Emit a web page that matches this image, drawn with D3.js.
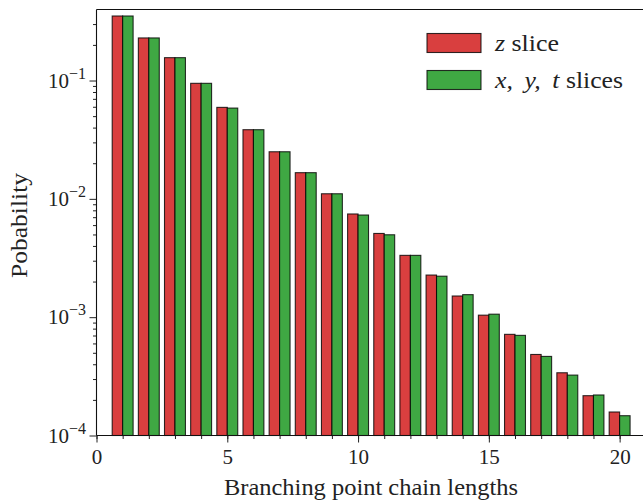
<!DOCTYPE html>
<html><head><meta charset="utf-8">
<script src="https://cdn.jsdelivr.net/npm/d3@7"></script>
<style>
html,body{margin:0;padding:0;background:#fff;overflow:hidden}
svg{display:block}
text{font-family:"Liberation Serif","DejaVu Serif",serif;fill:#222}
</style></head>
<body>
<svg id="c" width="643" height="500"></svg>
<script>
const categories = [1,2,3,4,5,6,7,8,9,10,11,12,13,14,15,16,17,18,19,20];
const zSlice = [0.351,0.229,0.156,0.0947,0.0593,0.0384,0.0250,0.01664,0.01104,0.00745,0.00510,0.00333,0.00227,0.00151,0.00104,0.000716,0.000484,0.000339,0.000217,0.000158];
const xytSlices = [0.351,0.229,0.156,0.0947,0.0585,0.0384,0.0250,0.01664,0.01104,0.00730,0.00497,0.00333,0.00222,0.00155,0.00106,0.000702,0.000466,0.000324,0.000220,0.000147];
const xTicks = [0,5,10,15,20];
const yTickExps = [-1,-2,-3,-4];
const seriesNames = [["z"," slice"],["x,\u2009 y,\u2009 t"," slices"]];
const colors = ["#d93f3f","#3fa843"];

const svg = d3.select("#c");
const L = 96.5, R = 645, T = 9.5, B = 435.5;
const x = d3.scaleLinear().domain([0,20.97]).range([L,R]);
const y = d3.scaleLog().domain([1e-4, Math.pow(10,-0.3998)]).range([B,T]);
const bw = 0.4;

const g = svg.append("g");
const series = [zSlice, xytSlices];
series.forEach((vals,si)=>{
  g.selectAll(".b"+si).data(categories).enter().append("rect")
    .attr("x", d => si===0 ? x(d-bw) : x(d))
    .attr("width", x(bw)-x(0))
    .attr("y", (d,i)=>y(vals[i]))
    .attr("height",(d,i)=>B-y(vals[i]))
    .attr("fill", colors[si])
    .attr("stroke","#000").attr("stroke-opacity",0.8).attr("stroke-width",1.1);
});

// x axis
const xAx = svg.append("g").attr("transform",`translate(0,${B})`);
xAx.call(d3.axisBottom(x).tickValues(d3.range(0,21)).tickSize(3.5).tickFormat(""));
const xMaj = svg.append("g").attr("transform",`translate(0,${B})`);
xMaj.call(d3.axisBottom(x).tickValues(xTicks).tickSize(7).tickPadding(5).tickFormat(d3.format("d")));
[xAx,xMaj].forEach(a=>{a.select(".domain").remove(); a.selectAll("line").attr("stroke","#222").attr("stroke-width",1);});
xMaj.selectAll("text").attr("font-size",21).attr("font-family","Liberation Serif").attr("fill","#222").attr("dy","0.8em");

// y axis
const minor = [];
for (let e=-4;e<0;e++) for (let m=2;m<10;m++){ const v=m*Math.pow(10,e); if (v<=y.domain()[1]) minor.push(v); }
const yMin = svg.append("g").attr("transform",`translate(${L},0)`);
yMin.call(d3.axisLeft(y).tickValues(minor).tickSize(3.5).tickFormat(""));
const yMaj = svg.append("g").attr("transform",`translate(${L},0)`);
yMaj.call(d3.axisLeft(y).tickValues(yTickExps.map(e=>Math.pow(10,e))).tickSize(7).tickFormat(""));
[yMin,yMaj].forEach(a=>{a.select(".domain").remove(); a.selectAll("line").attr("stroke","#222").attr("stroke-width",1);});
yTickExps.forEach(e=>{
  const t = svg.append("text").attr("x",86).attr("y",y(Math.pow(10,e))+7).attr("text-anchor","end").attr("font-size",21);
  t.append("tspan").text("10");
  t.append("tspan").attr("font-size",16).attr("dy",-9).text("\u2212"+(-e));
});

// spines
svg.append("line").attr("x1",L).attr("x2",L).attr("y1",T).attr("y2",B).attr("stroke","#111").attr("stroke-width",1.1);
svg.append("line").attr("x1",L).attr("x2",R).attr("y1",B).attr("y2",B).attr("stroke","#111").attr("stroke-width",1.1);
svg.append("line").attr("x1",L).attr("x2",R).attr("y1",T).attr("y2",T).attr("stroke","#111").attr("stroke-width",1.1);

// labels
svg.append("text").attr("x",224).attr("y",495).attr("font-size",23)
  .attr("textLength",294).attr("lengthAdjust","spacingAndGlyphs").text("Branching point chain lengths");
svg.append("text").attr("transform",`translate(27,278) rotate(-90)`).attr("font-size",23)
  .attr("textLength",105).attr("lengthAdjust","spacingAndGlyphs").text("Pobability");

// legend
const leg = svg.append("g");
const legW = [64,128];
seriesNames.forEach((n,i)=>{
  const yy = 33.5 + i*37;
  leg.append("rect").attr("x",427).attr("y",yy).attr("width",54).attr("height",19).attr("fill",colors[i]).attr("stroke","#000").attr("stroke-opacity",0.8).attr("stroke-width",1.1);
  const t = leg.append("text").attr("x",495).attr("y",yy+17).attr("font-size",23)
    .attr("textLength",legW[i]).attr("lengthAdjust","spacingAndGlyphs");
  t.append("tspan").attr("font-style","italic").text(n[0]);
  t.append("tspan").text(n[1]);
});
</script>
</body></html>
